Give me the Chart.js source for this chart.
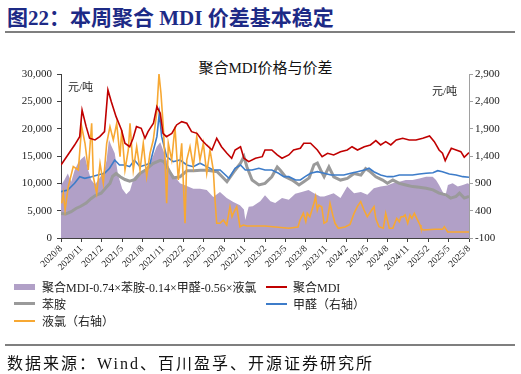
<!DOCTYPE html>
<html lang="zh">
<head>
<meta charset="UTF-8" />
<title>聚合MDI价格与价差</title>
<script src="https://cdn.jsdelivr.net/npm/chart.js"></script>
<style>
  body { margin: 0; background: #fff; width: 521px; height: 374px; position: relative; overflow: hidden;
         font-family: "Liberation Serif", "Noto Sans CJK SC", serif; }
  .abs { position: absolute; white-space: nowrap; }
  #head { left: 7px; top: 1px; font-size: 21px; font-weight: bold; color: #1d2a86;
          font-family: "Liberation Serif", "Noto Sans CJK SC", serif; }
  .rule { position: absolute; left: 5px; width: 510px; height: 2px; background: #7f7f7f; }
  #ctitle { left: 0; width: 531px; top: 56px; text-align: center; font-size: 15px; color: #111; }
  .unit { font-size: 11px; color: #222; }
  .lg { font-size: 12px; color: #222; }
  .sw { position: absolute; width: 21px; }
  #src { left: 7px; top: 350px; font-size: 16px; letter-spacing: 2px; color: #111; }
  #c { position: absolute; left: 0; top: 50px; }
</style>
</head>
<body>
<div id="head" class="abs">图22：本周聚合 MDI 价差基本稳定</div>
<div class="rule" style="top:31px"></div>
<div id="ctitle" class="abs">聚合MDI价格与价差</div>
<canvas id="c" width="521" height="230"></canvas>
<div class="abs unit" style="left:68px;top:78px">元/吨</div>
<div class="abs unit" style="left:432px;top:82px">元/吨</div>

<div class="sw" style="left:14px;top:284px;height:6px;background:#b1a0c7"></div>
<div class="abs lg" style="left:42px;top:278px">聚合MDI-0.74×苯胺-0.14×甲醛-0.56×液氯</div>
<div class="sw" style="left:266px;top:286px;height:2px;background:#c00000"></div>
<div class="abs lg" style="left:293px;top:278px">聚合MDI</div>
<div class="sw" style="left:14px;top:302px;height:3px;background:#9a9a9a"></div>
<div class="abs lg" style="left:42px;top:295px">苯胺</div>
<div class="sw" style="left:266px;top:303px;height:2px;background:#3d7cc9"></div>
<div class="abs lg" style="left:293px;top:295px">甲醛（右轴）</div>
<div class="sw" style="left:14px;top:320px;height:2px;background:#f7a833"></div>
<div class="abs lg" style="left:42px;top:312px">液氯（右轴）</div>

<div class="rule" style="top:344px"></div>
<div id="src" class="abs">数据来源：Wind、百川盈孚、开源证券研究所</div>

<script>
// x values are months since 2020/8
const xTickLabels = ["2020/8","2020/11","2021/2","2021/5","2021/8","2021/11","2022/2","2022/5","2022/8",
  "2022/11","2023/2","2023/5","2023/8","2023/11","2024/2","2024/5","2024/8","2024/11","2025/2","2025/5","2025/8"];

// 价差 (left axis)
const spreadM = [0,0.5,1,1.5,2,2.5,2.95,3.5,4,4.45,5,5.7,6.4,6.7,7.05,7.35,7.9,8.4,9,9.6,10.15,10.7,11.3,12.05,
  13.1,14.07,14.6,15.04,15.54,16,16.76,17.5,18.5,19.46,20.44,21.43,22.4,23.38,24.37,25.34,26.32,26.9,27.1,27.6,
  28.2,29.3,30,30.8,31.5,32.5,33.5,34.45,35.4,36.4,37.2,38.1,38.7,40.1,41.1,42.1,43.1,44.1,45.05,46,47,47.97,
  48.8,49.75,50.7,51.7,52.7,53.7,54.66,55.15,55.6,56.1,56.5,56.9,57.6,58.35,59.1,59.8,60];
const spreadV = [9700,10600,11800,10300,12400,13700,14400,15000,12400,10600,9800,11000,12400,14200,18000,17000,15500,
  11500,9000,8000,8700,11000,11800,12200,13600,16700,17500,16000,14200,12400,11200,10000,9500,9000,9000,8800,7500,
  8400,7300,6600,6000,5200,3300,5700,5800,6700,7800,6700,6400,7300,7000,8100,8400,8800,8200,7600,7600,8200,7300,
  9400,8200,8400,7900,9100,9400,9600,10000,10300,10600,10600,10900,11200,11200,10600,9700,8500,7600,9700,10000,
  9400,9700,10000,9900];

// 聚合MDI (left axis)
const mdiM = [0,1,2,2.75,3.1,3.7,4.2,5,5.7,6.4,6.9,7.4,8.1,8.9,9.4,10.1,10.6,11.1,11.8,12.35,12.8,13.6,14.1,14.6,
  15,15.5,16.3,17,17.75,18.5,19.2,20,20.7,21.4,22.2,22.9,23.6,24.4,25.1,25.6,26.4,26.9,27.6,28.6,29.6,30,31,31.8,
  32.5,33.5,34.2,35.2,35.7,36.7,37.7,38.4,39.2,40.1,41.1,42.1,42.8,43.6,44.6,45.5,46.3,47,47.75,48.5,49.3,50.25,
  51.2,52.2,53.2,54.2,54.9,55.6,56.1,56.5,56.9,57.4,58.1,58.8,59.3,60];
const mdiV = [13360,15190,17000,18540,23400,20370,18250,17930,18540,19450,27080,24940,22200,19760,17330,16700,18250,
  20370,20070,18250,19450,20990,24030,22800,19150,18540,19150,20680,21280,20990,19450,19150,17930,17020,16100,18250,
  16700,15500,14590,16100,16700,14590,13960,14590,14880,16100,16100,15190,14590,15190,16100,16410,17330,17330,16100,
  14880,15500,15190,15790,16100,16700,16100,16700,17020,17810,17020,17620,17020,17930,18250,17930,17930,18250,18660,
  17620,16100,15500,14140,15190,16410,16100,15790,14770,15610];

// 苯胺 (left axis)
const anilineM = [0,0.7,1.5,2.2,2.9,3.7,4.4,5.1,5.9,6.6,7.2,7.6,8.1,8.7,9.4,10.1,10.9,11.6,12.5,13.5,14.6,15.1,15.6,
  16.5,17.5,18.5,19.5,20.5,21.5,23,23.7,24.4,24.9,25.6,26.4,26.9,27.35,28.1,29.1,30,31,31.8,32.25,33,34,35,35.7,
  36.5,37.2,37.7,38.2,38.7,39.4,40.1,41.1,42.1,43.1,44.1,44.8,45.5,46.3,47.3,48,48.8,49.75,50.7,51.7,52.7,53.7,
  54.7,55.6,56.6,57.3,58.1,58.6,59.3,60];
const anilineV = [4500,4400,4800,5400,5800,6400,7200,7800,8200,9200,10000,11300,11800,11200,10700,10400,10700,11800,
  12500,13600,14200,14000,13000,11000,11200,12300,12300,12400,12400,12100,11200,10300,11200,12400,13700,14900,13000,
  10600,9700,10000,11200,13000,12400,11200,10600,9700,10300,11000,13400,13700,12400,11200,13000,11200,10600,10900,
  11800,11500,12700,12100,11200,10600,10000,10600,10000,9700,9400,9300,9100,8800,8200,7900,7300,7600,8200,7300,7600];

// 甲醛 (right axis)
const formM = [0,1,2,2.75,3.5,4.5,5.4,6.4,7.15,7.9,8.6,9.4,10.1,10.8,11.6,12.4,13.1,13.6,14.1,14.46,14.8,15.54,16.5,
  17.5,18.5,19.46,20.44,21.43,22.4,23.4,24.7,25.6,26.4,27.1,28.1,29.1,30,31,32,32.75,33.5,34.5,35.2,35.9,36.7,37.7,
  38.7,39.7,40.6,41.6,42.6,43.6,44.6,45.3,46,47,48,48.8,49.75,50.7,51.7,52.7,53.7,54.7,55.4,56.1,57.1,58.1,59.1,60];
const formV = [747,778,901,1022,992,1022,1053,1084,1176,1327,1236,1236,1205,1327,1205,1236,1267,1510,1754,2182,1754,
  1388,1296,1327,1236,1205,1267,1205,1144,1144,992,1176,1236,1144,1144,1176,1144,1144,1084,1022,1022,961,961,1022,
  1084,1113,1084,1053,1053,1053,1084,1113,1144,1176,1113,1053,1022,1022,1053,1053,1053,1071,1084,1095,1132,1113,
  1071,1053,1022,1011];

// 液氯 (right axis)
const chlorM = [0.1,0.34,0.6,1.07,1.8,2.55,3.04,3.53,4.01,4.51,4.75,5.25,5.74,6.22,6.72,7.2,7.69,8.19,8.68,8.93,9.41,
  9.9,10.15,10.63,11.13,11.62,12.1,12.6,13.09,13.57,14.07,14.41,14.7,15.04,15.29,15.54,15.78,16.28,16.76,17.25,
  17.75,18.24,18.49,18.97,19.46,19.96,20.44,20.93,21.43,21.91,22.4,22.65,22.9,23.38,23.87,24.37,24.85,25.15,25.34,
  25.84,26.32,26.81,27.35,30,33.5,34.85,35.15,35.63,36,36.22,36.6,37.2,37.44,37.69,37.9,38.34,38.68,39.1,39.56,40,
  40.3,40.78,41.76,42.5,43.1,43.57,44.07,44.56,45.04,45.69,46.03,46.3,46.76,47.4,47.75,48.28,48.8,49.37,49.75,50,
  50.34,50.6,50.99,51.32,51.6,51.96,52.35,52.8,52.94,53.28,55,56.13,56.37,56.87,60];
const chlorV = [535,718,412,839,1205,1144,1937,1633,1144,1999,1022,718,1267,901,1633,1937,1693,1999,1388,1876,1144,
  1510,1999,1144,1571,1144,1633,1022,1450,1693,2182,2900,2548,1937,1327,535,1633,1327,1937,961,1633,169,1327,1571,
  1205,1754,1327,1633,1084,1510,1144,595,169,169,229,138,473,290,352,473,107,138,120,120,78,100,229,352,200,352,290,
  535,656,412,500,473,169,200,535,300,169,78,100,150,352,473,565,412,290,412,473,250,107,78,352,78,80,260,198,290,
  290,320,169,321,260,352,250,138,78,46,59,59,107,10,10];

function pts(m, v) { return m.map((x, i) => ({ x: x, y: v[i] })); }

const tickFont = { family: "Liberation Serif", size: 11 };

new Chart(document.getElementById("c").getContext("2d"), {
  type: "line",
  data: {
    datasets: [
      { label: "聚合MDI", data: pts(mdiM, mdiV), borderColor: "#c00000", borderWidth: 1.6, yAxisID: "y", order: 0 },
      { label: "液氯（右轴）", data: pts(chlorM, chlorV), borderColor: "#f7a833", borderWidth: 1.6, yAxisID: "y2", order: 1 },
      { label: "甲醛（右轴）", data: pts(formM, formV), borderColor: "#3d7cc9", borderWidth: 1.6, yAxisID: "y2", order: 2 },
      { label: "苯胺", data: pts(anilineM, anilineV), borderColor: "#9a9a9a", borderWidth: 3, yAxisID: "y", order: 3 },
      { label: "价差", data: pts(spreadM, spreadV), borderWidth: 0, borderColor: "rgba(0,0,0,0)",
        backgroundColor: "#b1a0c7", fill: "origin", yAxisID: "y", order: 4 },
    ],
  },
  options: {
    responsive: false,
    animation: false,
    devicePixelRatio: 1,
    layout: { padding: { top: 24, left: 0, right: 0, bottom: 0 } },
    elements: { point: { radius: 0 }, line: { tension: 0 } },
    plugins: { legend: { display: false }, tooltip: { enabled: false } },
    scales: {
      x: {
        type: "linear", min: 0, max: 60,
        border: { color: "#404040" },
        grid: { drawOnChartArea: false, tickLength: 4, color: "#404040" },
        ticks: { stepSize: 3, autoSkip: false, minRotation: 45, maxRotation: 45, padding: 1,
                 font: { family: "Liberation Serif", size: 9.5 }, color: "#222",
                 callback: (v) => xTickLabels[Math.round(v / 3)] },
        afterFit: (s) => { s.height = 42; },
      },
      y: {
        position: "left", min: 0, max: 30000,
        border: { color: "#404040" },
        grid: { drawOnChartArea: false, tickLength: 4, color: "#404040" },
        ticks: { stepSize: 5000, padding: 5, font: tickFont, color: "#222",
                 callback: (v) => v.toLocaleString("en-US") },
        afterFit: (s) => { s.width = 61; },
      },
      y2: {
        position: "right", min: -100, max: 2900,
        border: { color: "#a0a0a0" },
        grid: { drawOnChartArea: false, tickLength: 4, color: "#a0a0a0" },
        ticks: { stepSize: 500, padding: 2, font: tickFont, color: "#222",
                 callback: (v) => v.toLocaleString("en-US") },
        afterFit: (s) => { s.width = 52; },
      },
    },
  },
});
</script>
</body>
</html>
